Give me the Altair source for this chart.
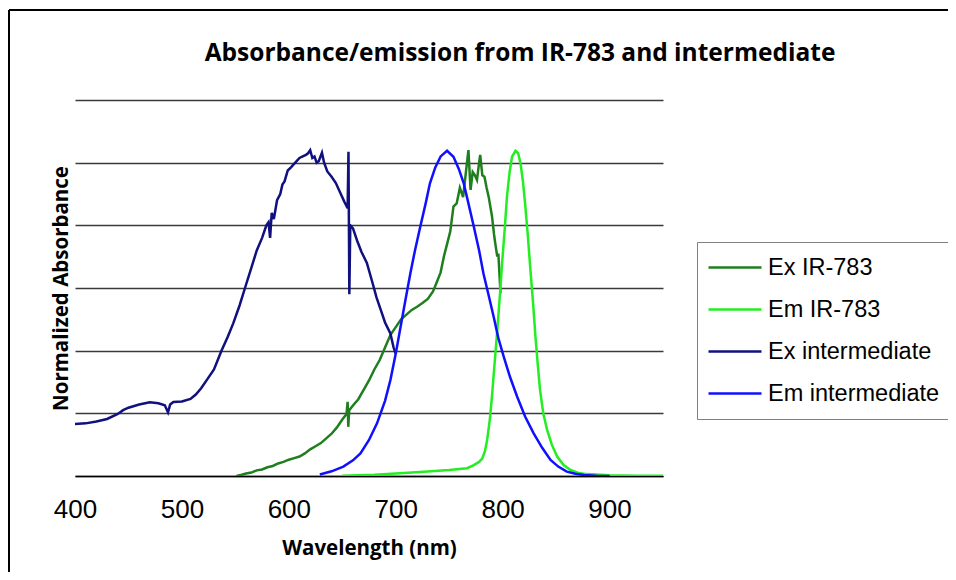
import altair as alt
import pandas as pd

# ---- data ----
series_names = ["Ex IR-783", "Em IR-783", "Ex intermediate", "Em intermediate"]
series_colors = ["#1F7F1F", "#22EE22", "#10107F", "#1010FF"]

ex_ir_nm = [551, 556, 560, 565, 570, 575, 580, 585, 590, 595, 600, 605, 610, 615, 620, 625,
            630, 635, 640, 645, 650, 654, 655, 655.6, 656.5, 660, 665, 670, 675, 680, 685, 690,
            695, 700, 705, 710, 715, 720, 725, 730, 735, 738, 742, 745, 748, 751, 754, 757,
            760, 763, 765, 768, 770, 772, 774, 776, 778, 779, 781, 783, 785, 787, 790, 792,
            793, 795, 796, 798]
ex_ir_val = [0.0, 0.004, 0.008, 0.011, 0.018, 0.021, 0.028, 0.032, 0.040, 0.045, 0.052, 0.057,
             0.062, 0.072, 0.085, 0.095, 0.105, 0.120, 0.135, 0.155, 0.180, 0.198, 0.237, 0.157,
             0.210, 0.225, 0.245, 0.275, 0.305, 0.340, 0.370, 0.410, 0.450, 0.475, 0.500, 0.515,
             0.530, 0.540, 0.552, 0.565, 0.590, 0.615, 0.650, 0.700, 0.740, 0.780, 0.860, 0.870,
             0.920, 0.890, 0.950, 1.040, 0.913, 0.970, 0.960, 0.945, 1.000, 1.025, 0.960, 0.955,
             0.920, 0.890, 0.830, 0.770, 0.745, 0.700, 0.710, 0.583]

em_ir_nm = [650, 680, 704, 730, 750, 766.7, 773, 778, 781, 783.5, 785.5, 788, 790, 792.5, 795,
            797.5, 799.5, 802, 804, 806.5, 808.8, 812, 814.5, 816.7, 819, 821, 823.5, 826, 828.5,
            830.7, 833, 835, 838, 841.6, 846, 851, 857, 863.5, 871, 879, 900, 925, 950]
em_ir_val = [0.001, 0.004, 0.009, 0.014, 0.019, 0.025, 0.035, 0.045, 0.056, 0.080, 0.115, 0.180,
             0.253, 0.360, 0.466, 0.580, 0.679, 0.790, 0.890, 0.970, 1.019, 1.038, 1.030, 0.998,
             0.940, 0.870, 0.770, 0.657, 0.550, 0.445, 0.350, 0.274, 0.200, 0.147, 0.100, 0.062,
             0.035, 0.019, 0.010, 0.006, 0.002, 0.001, 0.001]

ex_int_nm = [400, 410, 420, 430, 440, 445, 450, 460, 470, 478, 484, 487, 489, 492, 500, 508, 513,
             518, 524, 530, 537, 543, 548, 554, 559, 565, 570, 575, 579, 581, 582.5, 584, 586,
             589, 592, 594, 596, 599, 602, 606, 610, 613, 616, 618, 620, 622, 624, 626, 628, 631,
             633, 636, 640, 644, 648, 652, 655, 655.8, 656.6, 657.5, 660, 664, 668, 673, 678,
             682, 686, 690, 695, 698, 700]
ex_int_val = [0.166, 0.168, 0.174, 0.182, 0.198, 0.210, 0.218, 0.228, 0.235, 0.232, 0.226, 0.203,
              0.228, 0.236, 0.238, 0.246, 0.260, 0.280, 0.310, 0.340, 0.400, 0.445, 0.487, 0.545,
              0.600, 0.665, 0.720, 0.760, 0.800, 0.810, 0.760, 0.840, 0.820, 0.880, 0.900, 0.930,
              0.940, 0.975, 0.985, 1.000, 1.015, 1.020, 1.025, 1.030, 1.040, 1.015, 1.020, 1.000,
              1.005, 1.032, 1.000, 0.972, 0.955, 0.935, 0.905, 0.875, 0.855, 1.035, 0.580, 0.800,
              0.790, 0.750, 0.715, 0.680, 0.620, 0.570, 0.530, 0.490, 0.455, 0.410, 0.390]

em_int_nm = [629, 640, 651, 660, 667, 675, 682.5, 690, 695, 700, 704, 709, 713.7, 718, 723, 728,
             732, 737, 742, 748, 754, 759, 763.6, 768, 773, 778, 782, 787, 791.6, 796, 801, 807,
             813.6, 821, 829, 837, 844.8, 852, 860, 868, 876, 888, 900]
em_int_val = [0.005, 0.015, 0.030, 0.050, 0.072, 0.115, 0.168, 0.240, 0.306, 0.390, 0.466, 0.560,
              0.647, 0.720, 0.796, 0.870, 0.934, 0.985, 1.020, 1.038, 1.019, 0.980, 0.934, 0.870,
              0.796, 0.720, 0.647, 0.575, 0.508, 0.440, 0.381, 0.315, 0.253, 0.190, 0.136, 0.090,
              0.051, 0.030, 0.014, 0.007, 0.003, 0.001, 0.0]

x_ticks = [400, 500, 600, 700, 800, 900]
y_grid = [0, 0.2, 0.4, 0.6, 0.8, 1.0, 1.2]

title_text = "Absorbance/emission from IR-783 and intermediate"
x_title = "Wavelength (nm)"
y_title = "Normalized Absorbance"

# ---- build table ----
frames = []
for name, nm, val in [(series_names[0], ex_ir_nm, ex_ir_val),
                      (series_names[1], em_ir_nm, em_ir_val),
                      (series_names[2], ex_int_nm, ex_int_val),
                      (series_names[3], em_int_nm, em_int_val)]:
    frames.append(pd.DataFrame({"series": name, "wavelength": nm, "value": val}))
df = pd.concat(frames, ignore_index=True)

W, H = 588, 376
TITLE_FONT = "Open Sans"

lines = alt.Chart(df).mark_line(strokeWidth=2.5, clip=True).encode(
    x=alt.X("wavelength:Q",
            scale=alt.Scale(domain=[400, 950], nice=False, zero=False),
            axis=alt.Axis(values=x_ticks, ticks=False, grid=False, domain=True,
                          domainColor="black", domainWidth=1.5,
                          labelFont="Liberation Sans", labelFontSize=26, labelColor="black",
                          labelPadding=20, labelFlush=False,
                          title=x_title, titleFont=TITLE_FONT, titleFontSize=20.5,
                          titleFontWeight="bold", titleColor="black", titlePadding=16)),
    y=alt.Y("value:Q",
            scale=alt.Scale(domain=[0, 1.2], nice=False),
            axis=alt.Axis(values=y_grid, labels=False, ticks=False, domain=False,
                          grid=True, gridColor="#3a3a3a", gridWidth=1.3,
                          title=y_title, titleFont=TITLE_FONT, titleFontSize=20.5,
                          titleFontWeight="bold", titleColor="black", titlePadding=4)),
    color=alt.Color("series:N",
                    scale=alt.Scale(domain=series_names, range=series_colors),
                    legend=alt.Legend(orient="none", legendX=622, legendY=142, title=None,
                                      symbolType="stroke", symbolSize=2809,
                                      symbolStrokeWidth=2.5, labelFontSize=23.5,
                                      labelFont="Liberation Sans", labelColor="black",
                                      labelLimit=400, labelOffset=5,
                                      strokeColor="#808080", fillColor="white",
                                      padding=10, rowPadding=11, clipHeight=31)),
    detail="series:N",
    order="wavelength:Q",
)

frame_top = alt.Chart(pd.DataFrame({"a": [0]})).mark_rule(
    stroke="black", strokeWidth=2
).encode(x=alt.value(-66), x2=alt.value(1200), y=alt.value(-90))
frame_left = alt.Chart(pd.DataFrame({"a": [0]})).mark_rule(
    stroke="black", strokeWidth=2
).encode(x=alt.value(-66), y=alt.value(-90), y2=alt.value(900))

title = alt.Chart(pd.DataFrame({"t": [title_text]})).mark_text(
    font=TITLE_FONT, fontSize=24.5, fontWeight="bold", color="black",
    align="center", baseline="alphabetic"
).encode(text="t:N", x=alt.value(445), y=alt.value(-39))

chart = alt.layer(frame_top, frame_left, lines, title).properties(
    width=W, height=H,
    autosize=alt.AutoSizeParams(type="none"),
    padding={"left": 67, "top": 92, "right": 285, "bottom": 96},
).configure_view(stroke=None)

chart.save("out.html", embed_options={"renderer": "svg", "actions": False})
